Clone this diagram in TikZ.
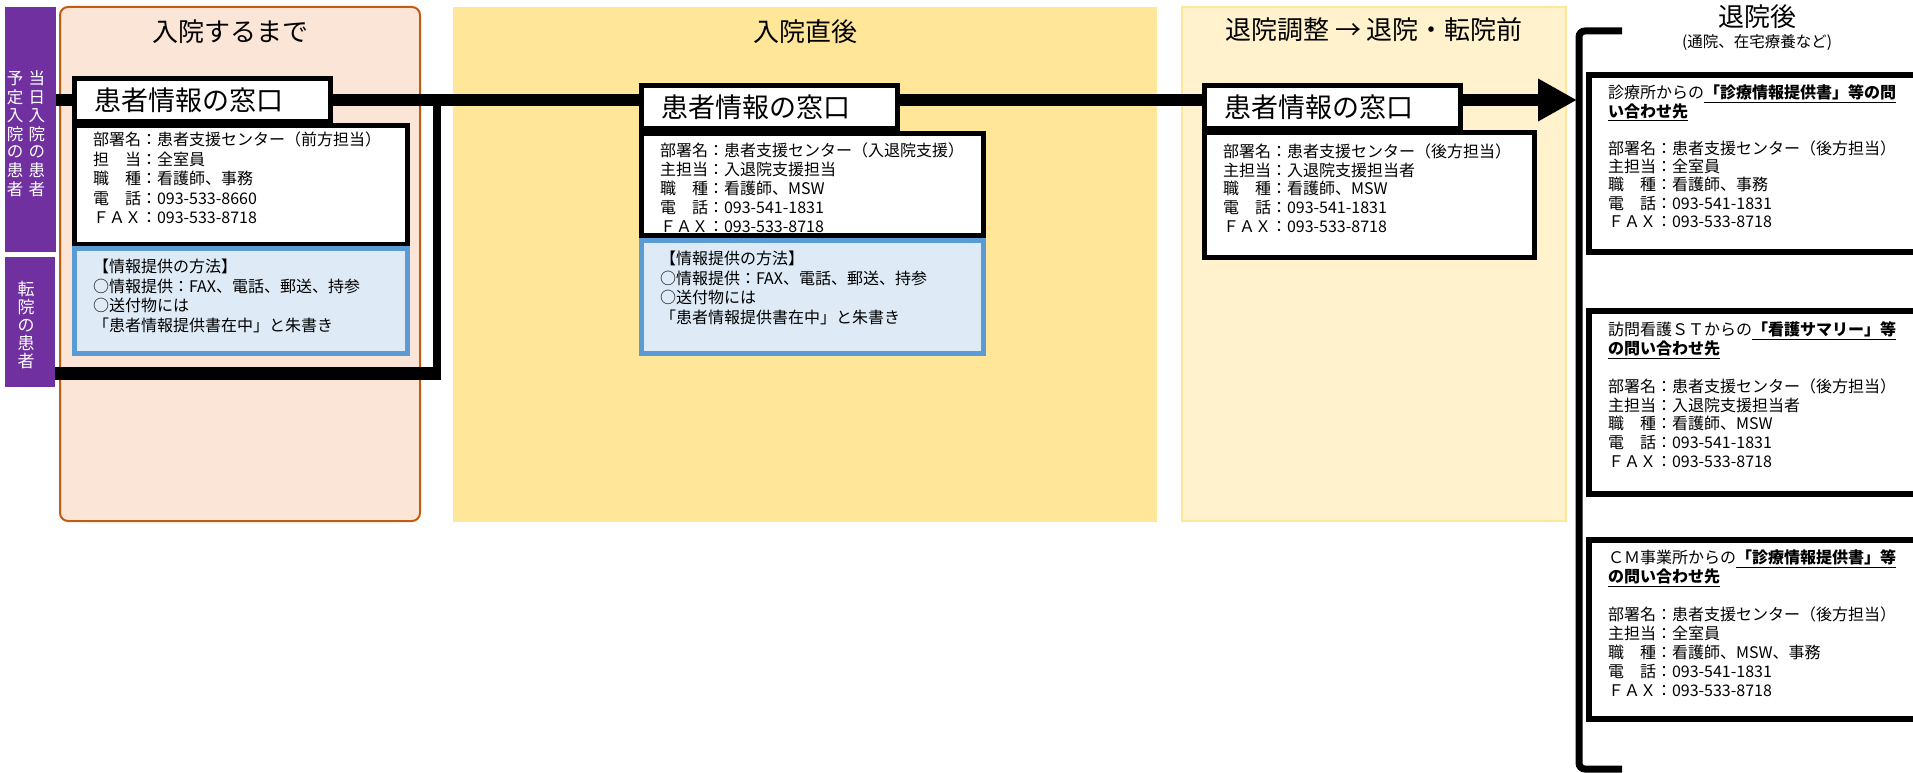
\documentclass[tikz,border=0pt]{standalone}
\usepackage{fontspec}
\setmainfont{Noto Sans CJK JP}
\usetikzlibrary{arrows.meta}
\definecolor{purp}{HTML}{7030A0}
\definecolor{peach}{HTML}{FBE5D6}
\definecolor{orangeb}{HTML}{C55A11}
\definecolor{gold}{HTML}{FFE699}
\definecolor{lightgold}{HTML}{FFF2CC}
\definecolor{blueb}{HTML}{5B9BD5}
\definecolor{bluef}{HTML}{DEEBF7}
\vfuzz=500pt \hfuzz=100pt \vbadness=10000 \hbadness=10000
\newcommand{\boxtext}[3]{\parbox[t][#1][t]{#2}{#3}}
\newcommand{\myul}[1]{\underline{\bfseries #1}}
\begin{document}
\begin{tikzpicture}[x=1pt,y=-1pt,
  panelbox/.style={anchor=north west, inner sep=0, outer sep=0},
  purpbox/.style={fill=purp, anchor=north west, inner sep=0, outer sep=0},
  vtxt/.style={text=white, inner sep=0, align=center},
  ttl/.style={font=\fontsize{26}{30}\selectfont, inner sep=0},
  subttl/.style={font=\fontsize{15.5}{18}\selectfont, inner sep=0},
  winbox/.style={draw, line width=5, fill=white, anchor=north west, minimum width=256, minimum height=43, inner xsep=20, inner ysep=0, text width=216, align=left, font=\fontsize{27}{30}\selectfont},
  infobox/.style={draw, line width=5, fill=white, anchor=north west, inner xsep=18.5},
  methbox/.style={draw=blueb, line width=5, fill=bluef, anchor=north west, inner xsep=18.5},
  rbox/.style={draw, line width=6, fill=white, anchor=north west, inner xsep=19},
  flow/.style={line width=12, line cap=butt}
]
\useasboundingbox (0,0) rectangle (1913,773);

% phase panels
\node[panelbox, draw=orangeb, line width=2, fill=peach, rounded corners=8, minimum width=360, minimum height=514] (P1) at (60,7) {};
\node[panelbox, fill=gold, minimum width=704, minimum height=515] (P2) at (453,7) {};
\node[panelbox, draw=gold, line width=2, fill=lightgold, minimum width=384, minimum height=514] (P3) at (1182,7) {};

% purple patient labels
\node[purpbox, minimum width=51, minimum height=245] (pA) at (5,7) {};
\node[purpbox, minimum width=50, minimum height=130] (pB) at (5,257) {};
\node[vtxt, font=\fontsize{16.5}{17}\selectfont] (tA) at ([xshift=-4.5pt,yshift=-6pt]pA.center)
  {\begin{tabular}{@{}c@{\hspace{5.5pt}}c@{}}予&当\\定&日\\入&入\\院&院\\の&の\\患&患\\者&者\end{tabular}};
\node[vtxt, font=\fontsize{17}{18}\selectfont] (tB) at ([xshift=-4pt,yshift=-3pt]pB.center) {転\\院\\の\\患\\者};

% titles
\node[ttl] (t1) at (230,32) {入院するまで};
\node[ttl] (t2) at (805,32) {入院直後};
\node[ttl] (t3) at (1374,30) {退院調整 → 退院・転院前};
\node[ttl] (t4) at (1757,17) {退院後};
\node[subttl] (t5) at (1757,42) {(通院、在宅療養など)};

% column 1
\node[infobox, inner ysep=6.6, font=\fontsize{16}{19.5}\selectfont] (i1) at (72,123)
  {\boxtext{105.8pt}{296pt}{部署名：患者支援センター（前方担当）\\担　当：全室員\\職　種：看護師、事務\\電　話：093-533-8660\\ＦＡＸ：093-533-8718}};
\node[winbox] (w1) at (72,76) {患者情報の窓口};
\node[methbox, inner ysep=10.6, font=\fontsize{16}{19.5}\selectfont] (b1) at (72,246)
  {\boxtext{83.8pt}{296pt}{【情報提供の方法】\\○情報提供：FAX、電話、郵送、持参\\○送付物には\\「患者情報提供書在中」と朱書き}};

% column 2
\node[infobox, inner ysep=9.6, font=\fontsize{16}{19}\selectfont] (i2) at (639,131)
  {\boxtext{82.8pt}{305pt}{部署名：患者支援センター（入退院支援）\\主担当：入退院支援担当\\職　種：看護師、MSW\\電　話：093-541-1831\\ＦＡＸ：093-533-8718}};
\node[winbox] (w2) at (639,83) {患者情報の窓口};
\node[methbox, inner ysep=10.6, font=\fontsize{16}{19.5}\selectfont] (b2) at (639,238)
  {\boxtext{91.8pt}{305pt}{【情報提供の方法】\\○情報提供：FAX、電話、郵送、持参\\○送付物には\\「患者情報提供書在中」と朱書き}};

% column 3
\node[infobox, inner ysep=11.6, font=\fontsize{16}{18.6}\selectfont] (i3) at (1202,130)
  {\boxtext{101.8pt}{293pt}{部署名：患者支援センター（後方担当）\\主担当：入退院支援担当者\\職　種：看護師、MSW\\電　話：093-541-1831\\ＦＡＸ：093-533-8718}};
\node[winbox] (w3) at (1202,83) {患者情報の窓口};

% after discharge
\node[rbox, inner ysep=10.1, font=\fontsize{16}{18.4}\selectfont] (r1) at (1586,72)
  {\boxtext{156.8pt}{298pt}{診療所からの\myul{「診療情報提供書」等の問}\\\myul{い合わせ先}\\[18.4pt]部署名：患者支援センター（後方担当）\\主担当：全室員\\職　種：看護師、事務\\電　話：093-541-1831\\ＦＡＸ：093-533-8718}};
\node[rbox, inner ysep=11.1, font=\fontsize{16}{18.8}\selectfont] (r2) at (1586,308)
  {\boxtext{160.8pt}{298pt}{訪問看護ＳＴからの\myul{「看護サマリー」等}\\\myul{の問い合わせ先}\\[18.8pt]部署名：患者支援センター（後方担当）\\主担当：入退院支援担当者\\職　種：看護師、MSW\\電　話：093-541-1831\\ＦＡＸ：093-533-8718}};
\node[rbox, inner ysep=10.1, font=\fontsize{16}{19}\selectfont] (r3) at (1586,537)
  {\boxtext{158.8pt}{298pt}{ＣＭ事業所からの\myul{「診療情報提供書」等}\\\myul{の問い合わせ先}\\[19pt]部署名：患者支援センター（後方担当）\\主担当：全室員\\職　種：看護師、MSW、事務\\電　話：093-541-1831\\ＦＡＸ：093-533-8718}};

% flow connectors
\coordinate (L) at (56,100);
\coordinate (tip) at (1577,100);
\coordinate (c1) at (437,373);
\coordinate (c2) at (437,100);
\draw[flow] (pA.east |- L) -- (w1.west |- L);
\draw[flow] (w1.east |- L) -- (w2.west |- L);
\draw[flow] (w2.east |- L) -- (w3.west |- L);
\draw[flow, -{Triangle[length=39pt,width=40pt]}] (w3.east |- L) -- (tip);
\draw[line width=13] (pB.east |- c1) -- ([xshift=4pt]c1);
\draw[line width=8] ([yshift=-6.5pt]c1) -- (c2);

% bracket
\draw[line width=7, rounded corners=6] (1622,31) -- (1579,31) -- (1579,769) -- (1622,769);
\end{tikzpicture}
\end{document}
